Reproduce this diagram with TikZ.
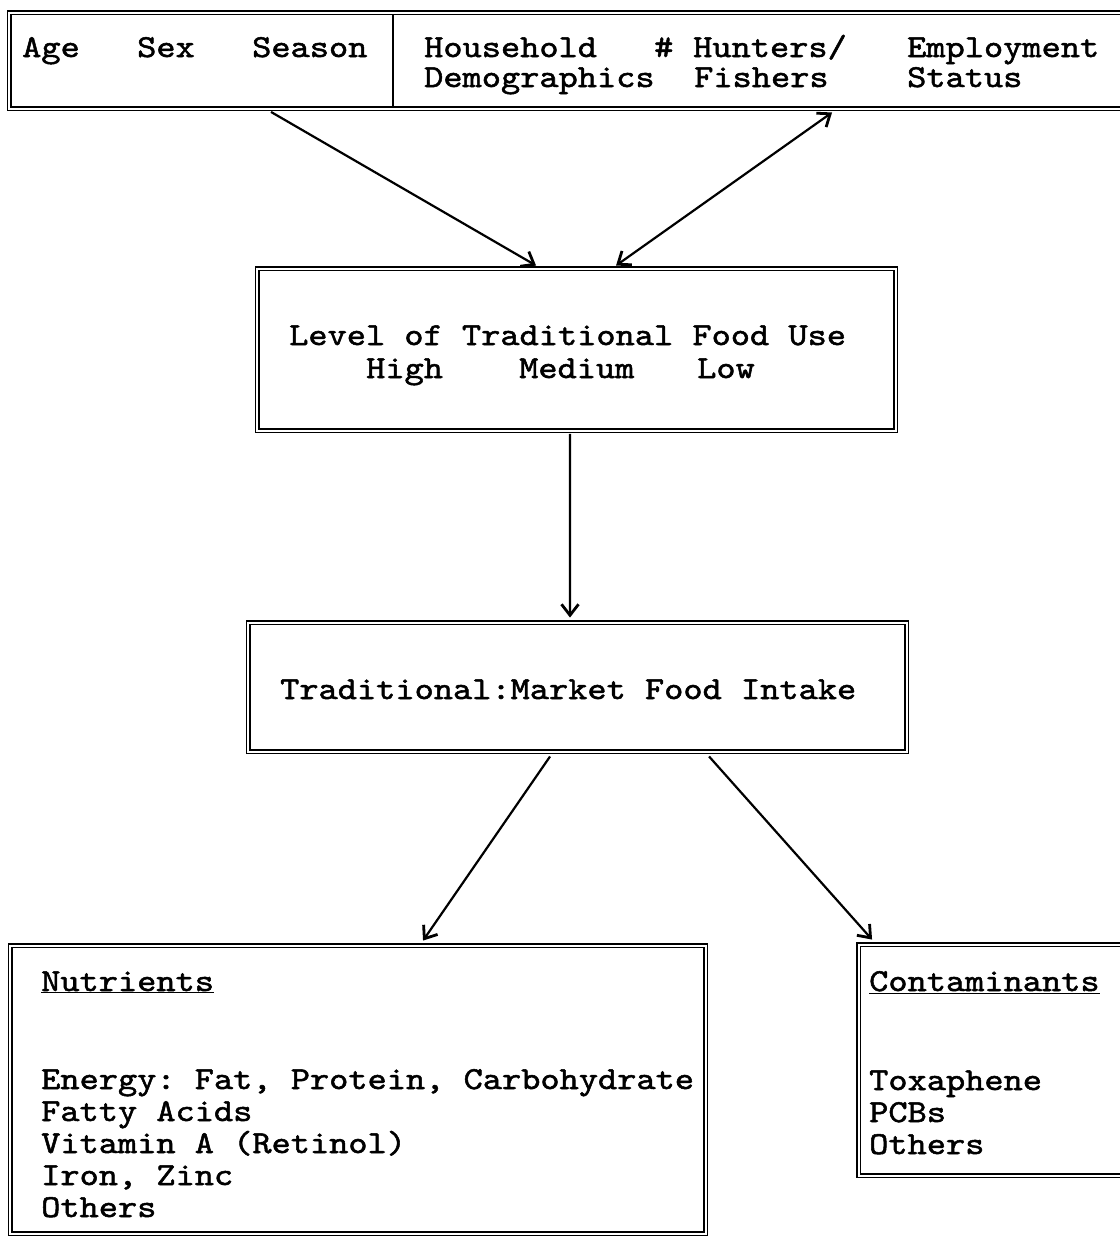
\documentclass[tikz,border=0pt]{standalone}
\usepackage{fontspec}
\newfontfamily\cour{lmmono10-regular}[Extension=.otf, FakeStretch=1.143, FakeBold=1.6]
\usetikzlibrary{arrows.meta}
\tikzset{
  dbox/.style={draw, line width=1.9bp, double, double distance=2bp, rectangle, inner sep=0pt},
  txt/.style={anchor=base west, inner sep=0pt, font=\cour\fontsize{32bp}{32bp}\selectfont\frenchspacing},
  arr/.style={line width=2.2bp, -{Straight Barb[length=11bp,width=17bp,line width=2.8bp]}},
  arrb/.style={line width=2.2bp, {Straight Barb[length=11bp,width=17bp,line width=2.8bp]}-{Straight Barb[length=11bp,width=17bp,line width=2.8bp]}},
  divider/.style={line width=1.8bp}
}
\begin{document}
\begin{tikzpicture}[x=1bp,y=-1bp]
\useasboundingbox (0,0) rectangle (1120,1237);
\clip (0,0) rectangle (1120,1237);
\fill[white] (0,0) rectangle (1120,1237);
% boxes
\node[dbox, minimum width=1131bp, minimum height=96bp] (top) at (575,60.5) {};
\node[dbox, minimum width=638bp, minimum height=162bp] (level) at (576.5,349.5) {};
\node[dbox, minimum width=658bp, minimum height=129bp] (trad) at (577.5,687) {};
\node[dbox, minimum width=695bp, minimum height=288bp] (nutr) at (358,1089.5) {};
\node[dbox, minimum width=281bp, minimum height=231bp] (cont) at (999,1060) {};
\draw[divider] (393,14) -- (393,106);
% top texts
\node[txt] (age) at (22,57) {Age};
\node[txt] (sex) at (137,57) {Sex};
\node[txt] (season) at (252,57) {Season};
\node[txt] (hh) at (424,57) {Household};
\node[txt] (hash) at (654,57) {\#};
\node[txt] (hunt) at (693,57) {Hunters/};
\node[txt] (emp) at (907,57) {Employment};
\node[txt] (demo) at (424,87) {Demographics};
\node[txt] (fish) at (694,87) {Fishers};
\node[txt] (stat) at (907,87) {Status};
% level texts
\node[txt] (lvl) at (289,345) {Level of Traditional Food Use};
\node[txt] (high) at (366,378) {High};
\node[txt] (med) at (519,378) {Medium};
\node[txt] (low) at (697,378) {Low};
% trad text
\node[txt] (tm) at (280,699) {Traditional:Market Food Intake};
% nutrients
\node[txt] (nh) at (41,991) {\underline{Nutrients}};
\node[txt] (n1) at (41,1089) {Energy: Fat, Protein, Carbohydrate};
\node[txt] (n2) at (41,1121) {Fatty Acids};
\node[txt] (n3) at (41,1153) {Vitamin A (Retinol)};
\node[txt] (n4) at (41,1185) {Iron, Zinc};
\node[txt] (n5) at (41,1217) {Others};
% contaminants
\node[txt] (ch) at (869,991) {\underline{Contaminants}};
\node[txt] (c1) at (869,1090) {Toxaphene};
\node[txt] (c2) at (869,1122) {PCBs};
\node[txt] (c3) at (869,1154) {Others};
% connectors
\draw[arr] ([xshift=262.5bp,yshift=-2.5bp]top.south west) -- ([xshift=279.5bp,yshift=2bp]level.north west);
\draw[arrb] ([xshift=359.5bp,yshift=2bp]level.north west) -- ([xshift=823.5bp,yshift=-3bp]top.south west);
\draw[arr] ([xshift=-6.5bp,yshift=-2.5bp]level.south) -- ([xshift=-7.5bp,yshift=4bp]trad.north);
\draw[arr] ([xshift=302.5bp,yshift=-4bp]trad.south west) -- ([xshift=413.5bp,yshift=4bp]nutr.north west);
\draw[arr] ([xshift=461.5bp,yshift=-4bp]trad.south west) -- ([xshift=14.5bp,yshift=4bp]cont.north west);
\end{tikzpicture}
\end{document}
